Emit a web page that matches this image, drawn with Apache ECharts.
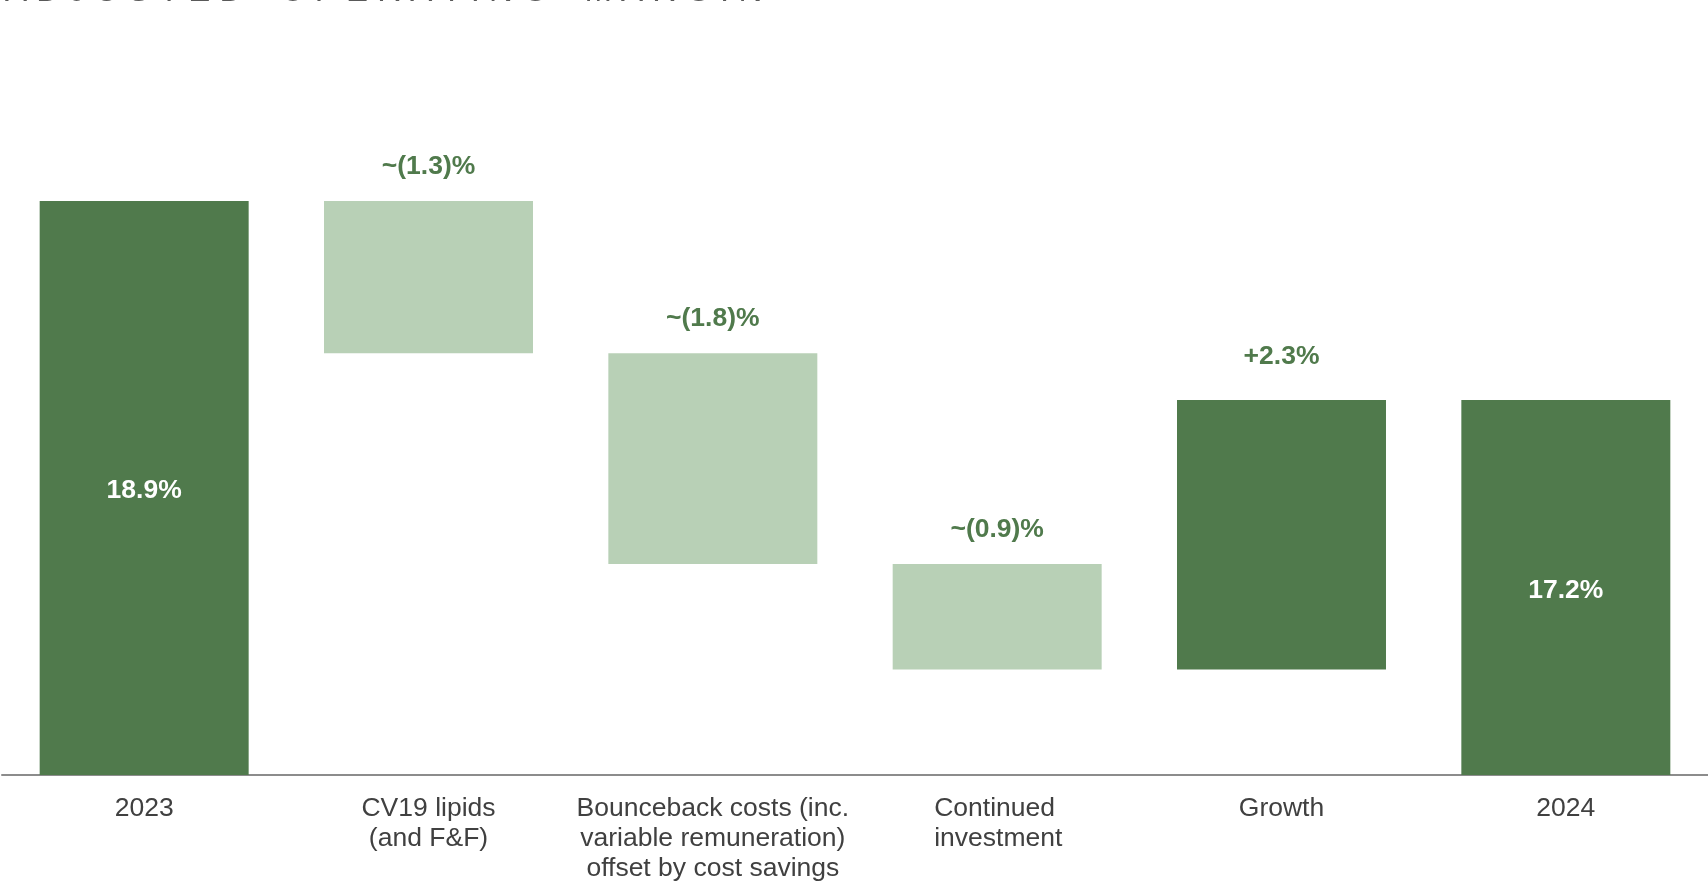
<!DOCTYPE html>
<html>
<head>
<meta charset="utf-8">
<script src="https://cdn.jsdelivr.net/npm/echarts@6/dist/echarts.min.js"></script>
<style>
html,body{margin:0;padding:0;background:#fff;}
#chart{width:1708px;height:884px;}
</style>
</head>
<body>
<div id="chart"></div>
<script>
const titleText = 'ADJUSTED OPERATING MARGIN';
const categories = [
  '2023',
  'CV19 lipids\n(and F&F)',
  'Bounceback costs (inc.\nvariable remuneration)\noffset by cost savings',
  'Continued\ninvestment',
  'Growth',
  '2024'
];
const startValue = 18.9;
const deltas = [-1.3, -1.8, -0.9, 2.3];
const endValue = 17.2;
const labelTexts = ['18.9%', '~(1.3)%', '~(1.8)%', '~(0.9)%', '+2.3%', '17.2%'];

const DARK = '#507a4c';
const LIGHT = '#b8d0b6';
const FONT = 'Liberation Sans, Arial, sans-serif';

// build waterfall from the values
const baseData = [0];
const barData = [startValue];
let running = startValue;
deltas.forEach(d => {
  const next = running + d;
  baseData.push(Math.min(running, next));
  barData.push(Math.abs(d));
  running = next;
});
baseData.push(0);
barData.push(endValue);

const spacedTitle = titleText.split('').map(c => c === ' ' ? '  ' : c).join(' ');

const visibleItems = barData.map((v, i) => {
  const isTotal = i === 0 || i === barData.length - 1;
  const isUp = !isTotal && deltas[i - 1] > 0;
  const item = {
    value: v,
    itemStyle: { color: (isTotal || isUp) ? DARK : LIGHT }
  };
  if (isTotal) {
    item.label = {
      show: true, position: 'inside', offset: [0, 3], formatter: labelTexts[i],
      color: '#ffffff', fontSize: 26.5, fontWeight: 'bold', fontFamily: FONT
    };
  } else {
    item.label = {
      show: true, position: 'top', distance: isUp ? 30 : 21, formatter: labelTexts[i],
      color: DARK, fontSize: 26.5, fontWeight: 'bold', fontFamily: FONT
    };
  }
  return item;
});

const chart = echarts.init(document.getElementById('chart'));
chart.setOption({
  animation: false,
  backgroundColor: '#ffffff',
  title: {
    text: spacedTitle,
    left: 0,
    top: -30,
    textStyle: {
      fontFamily: FONT,
      fontSize: 33, fontWeight: 'normal', color: '#595959'
    }
  },
  grid: { left: 2, right: 0, top: 72, bottom: 106, containLabel: false },
  xAxis: {
    type: 'category',
    data: categories,
    axisTick: { show: false },
    axisLine: { show: true, lineStyle: { color: '#8c8c8c', width: 2 } },
    axisLabel: {
      interval: 0,
      margin: 19,
      color: '#404040',
      fontSize: 26.5,
      lineHeight: 30,
      fontFamily: FONT,
      formatter: function (v) {
        if (v.indexOf('Continued') === 0) {
          return v.split('\n').map(s => '{l|' + s + '}').join('\n');
        }
        return v;
      },
      rich: {
        l: { width: 126, align: 'left', fontSize: 26.5, lineHeight: 30, color: '#404040', fontFamily: FONT }
      }
    }
  },
  yAxis: {
    type: 'value',
    min: 14,
    max: 20,
    show: false,
    splitLine: { show: false }
  },
  series: [
    {
      type: 'bar',
      stack: 'wf',
      data: baseData,
      itemStyle: { color: 'transparent' },
      barWidth: '73.5%',
      silent: true
    },
    {
      type: 'bar',
      stack: 'wf',
      data: visibleItems,
      barWidth: '73.5%'
    }
  ]
});
</script>
</body>
</html>
